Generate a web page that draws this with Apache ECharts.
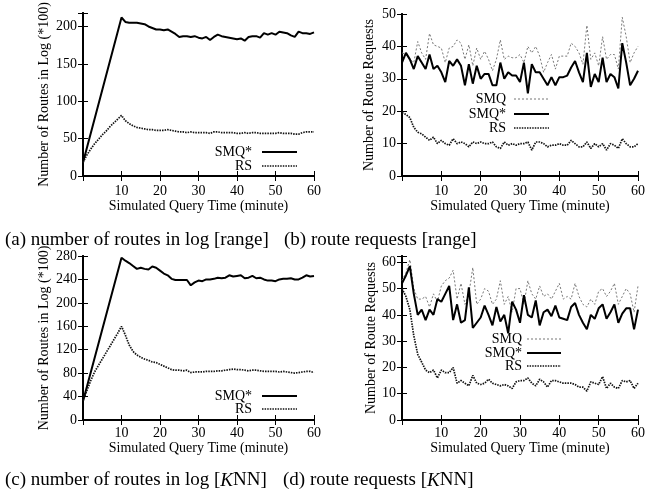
<!DOCTYPE html>
<html>
<head>
<meta charset="utf-8">
<script src="https://cdn.jsdelivr.net/npm/echarts@6/dist/echarts.min.js"></script>
<style>
html,body{margin:0;padding:0;background:#fff;}
#chart{width:648px;height:494px;}
</style>
</head>
<body>
<div id="chart"></div>
<script>
// ---- data ----
const minutes = [0,1,2,3,4,5,6,7,8,9,10,11,12,13,14,15,16,17,18,19,20,21,22,23,24,25,26,27,28,29,30,31,32,33,34,35,36,37,38,39,40,41,42,43,44,45,46,47,48,49,50,51,52,53,54,55,56,57,58,59,60];
const xTicks = [10,20,30,40,50,60];

// (a) number of routes in log [range] (*100)
const routesSmqStarRange = [18,null,null,null,null,null,null,null,null,null,212,206,205,205,205,204,203,200,198,196,196,195,196,193,190,186,187,187,186,187,185,184,186,182,186,189,187,186,185,184,183,184,181,186,187,187,185,191,189,191,189,193,192,191,188,186,193,191,191,190,192];
const routesRsRange = [18,28,36,43,49,55,60,66,71,76,81,74,70,67,65,64,63,62,62,61,61,61,62,61,60,59,59,58,59,58,58,58,58,57,59,59,58,58,58,58,57,57,58,57,58,58,57,57,57,57,57,58,57,57,57,56,56,58,59,59,59];

// (b) route requests [range]
const requestsSmqRange = [38,37.5,36,35,41.5,38,36,44,40.5,40,39.5,35,39.5,40,42,41,36,40.5,34,39.5,36,38.5,36,32.5,36,42,36,37,36.5,36.5,37.5,35,40,38,40,37,32,35,37.5,33,37,37,37,41,40,38,34.5,46.5,36,38,34,43,36,37.5,37.5,33,49,43,35,38,40];
const requestsSmqStarRange = [35,38,36,33,37,35,33,37.5,33,34,32,29,35.5,34,36,34,28,34.5,28.5,34,30,31.5,31.5,28,28,35,30,32,31,31,29,35,25.5,34.5,32,32,30,28,30.5,28,30.5,30.5,31,33.5,35.5,32,29,38,27.5,31.5,29,36.5,29,31.5,30.5,27,41,35,28,30,32.5];
const requestsRsRange = [19.5,19,18,15,13.5,13,12,11,12,10,11,10,9.5,11.5,10,10.5,10,9,10.5,10,10.5,10,10,10.5,9,8.5,10.5,9.5,10,9.5,10,10,10.5,8,10.5,10.5,10,9,9.5,9.5,10,9.5,9.5,11,10,9,9,10.5,8.5,10,9,10,8,10,9.5,8.5,11.5,10,9,9,10];

// (c) number of routes in log [KNN] (*100)
const routesSmqStarKnn = [32,null,null,null,null,null,null,null,null,null,277,272,268,263,258,260,258,257,262,260,255,250,247,241,239,239,239,239,230,235,238,237,240,240,241,243,242,243,247,245,246,247,242,243,246,242,243,240,238,238,237,240,241,241,242,240,240,243,247,245,246];
const routesRsKnn = [33,50,67,82,93,104,115,126,137,148,160,145,128,117,111,107,104,102,99,98,95,92,89,86,85,85,84,85,81,82,82,82,83,83,83,84,84,85,86,87,86,86,85,84,85,85,84,83,83,83,83,82,83,82,81,80,81,82,83,83,81];

// (d) route requests [KNN]
const requestsSmqKnn = [53,56,61,50,46,46,47,43,48,45,51,53,54,57,46,52,44,48,58,44,46,50,49,44,46,53,44,47,41,50,50,44,53,48,46,51,47,48,46,49,52,46,47,46,52,47,44,43,46,44,49,50,47,49,52,44,47,50,48,41,51];
const requestsSmqStarKnn = [52,55,58.5,48,40,42,38,42,40,46,45,48,51,38,44,37,38,50.5,35,37,39,43.5,40,36,43,37.5,40,33,45,42,37,47.5,40,39,45.5,36,41,42,39.5,43.5,39,38.5,38,43,44.5,40,37,34.5,40,38.5,42.5,44,38.5,41,44,37,40.5,42.5,42.5,34.5,42];
const requestsRsKnn = [50,47,42,32,25,22,19,18,19,16,19,18,18,20,14,15,14,13,17,14,13.5,14,15.5,14,13.5,13,13.5,13,12,14.5,15,15,16,14,13,15.5,14.5,12.5,15,15,14.5,14,14,14,13.5,12.5,12.5,11,14.5,14,13.5,16.5,12,14,12.5,12,15,14.5,15,12,14];

const captions = ['(a) number of routes in log [range]', '(b) route requests [range]', '(c) number of routes in log [{k|K}NN]', '(d) route requests [{k|K}NN]'];
const xTitle = 'Simulated Query Time (minute)';
const yTitleRoutes = 'Number of Routes in Log (*100)';
const yTitleRequests = 'Number of Route Requests';

// ---- styles ----
const FONT = '"Liberation Serif", "Times New Roman", serif';
const styleSmqStar = {color: '#000', width: 2, type: 'solid'};
const styleRs = {color: '#111', width: 1.7, type: [1.5, 1.1]};
const styleSmq = {color: '#777', width: 1, type: [2, 2]};

const grids = [
  {left: 83, top: 13, width: 231, height: 163},
  {left: 402, top: 14, width: 239, height: 162},
  {left: 83, top: 256, width: 231, height: 164},
  {left: 402, top: 256, width: 239, height: 164}
];
const yCfg = [
  {max: 218, interval: 50, name: yTitleRoutes, gap: 32},
  {max: 50, interval: 10, name: yTitleRequests, gap: 26},
  {max: 280, interval: 40, name: yTitleRoutes, gap: 32},
  {max: 62.4, interval: 10, name: yTitleRequests, gap: 23}
];
const xCfg = [
  {margin: 8, gap: 15},
  {margin: 8, gap: 15},
  {margin: 6, gap: 20},
  {margin: 6, gap: 20}
];

const xAxes = [], yAxes = [];
const lineAx = {show: true, lineStyle: {color: '#000', width: 2}};
const tickAx = {show: true, inside: true, length: 5, lineStyle: {color: '#000', width: 1}};
grids.forEach((g, i) => {
  xAxes.push({
    type: 'value', gridIndex: i, position: 'bottom', min: 0, max: 60, interval: 10,
    axisLine: lineAx, axisTick: tickAx, splitLine: {show: false},
    axisLabel: {fontFamily: FONT, fontSize: 14, color: '#000', margin: xCfg[i].margin,
      formatter: v => (xTicks.indexOf(v) >= 0 ? String(v) : '')},
    name: xTitle, nameLocation: 'middle', nameGap: xCfg[i].gap,
    nameTextStyle: {fontFamily: FONT, fontSize: 14, color: '#000'}
  });
  xAxes.push({
    type: 'value', gridIndex: i, position: 'top', min: 0, max: 60, interval: 10,
    axisLine: lineAx, axisTick: tickAx, splitLine: {show: false}, axisLabel: {show: false}
  });
  const yc = yCfg[i];
  yAxes.push({
    type: 'value', gridIndex: i, position: 'left', min: 0, max: yc.max, interval: yc.interval,
    axisLine: lineAx, axisTick: tickAx, splitLine: {show: false},
    axisLabel: {fontFamily: FONT, fontSize: 14, color: '#000', margin: 6,
      formatter: v => (v % yc.interval === 0 ? String(v) : '')},
    name: yc.name, nameLocation: 'middle', nameGap: yc.gap,
    nameTextStyle: {fontFamily: FONT, fontSize: 14, color: '#000'}
  });
  yAxes.push({
    type: 'value', gridIndex: i, position: 'right', min: 0, max: yc.max, interval: yc.interval,
    axisLine: lineAx, axisTick: tickAx, splitLine: {show: false}, axisLabel: {show: false}
  });
});

function pairs(vals) {
  const out = [];
  vals.forEach((v, i) => { if (v !== null) out.push([minutes[i], v]); });
  return out;
}
function mkSeries(name, vals, gi, ls) {
  return {
    name: name, type: 'line', xAxisIndex: gi * 2, yAxisIndex: gi * 2,
    data: pairs(vals), symbol: 'none', lineStyle: ls, silent: true, z: 3
  };
}
const series = [
  mkSeries('SMQ*', routesSmqStarRange, 0, styleSmqStar),
  mkSeries('RS', routesRsRange, 0, styleRs),
  mkSeries('SMQ', requestsSmqRange, 1, styleSmq),
  mkSeries('SMQ*', requestsSmqStarRange, 1, styleSmqStar),
  mkSeries('RS', requestsRsRange, 1, styleRs),
  mkSeries('SMQ*', routesSmqStarKnn, 2, styleSmqStar),
  mkSeries('RS', routesRsKnn, 2, styleRs),
  mkSeries('SMQ', requestsSmqKnn, 3, styleSmq),
  mkSeries('SMQ*', requestsSmqStarKnn, 3, styleSmqStar),
  mkSeries('RS', requestsRsKnn, 3, styleRs)
];

// legends (drawn as graphics)
const legendDefs = [
  {textRight: 252, x1: 262, x2: 297, items: [['SMQ*', styleSmqStar, 152], ['RS', styleRs, 166]]},
  {textRight: 506, x1: 514, x2: 549, items: [['SMQ', styleSmq, 99], ['SMQ*', styleSmqStar, 114], ['RS', styleRs, 128]]},
  {textRight: 252, x1: 262, x2: 297, items: [['SMQ*', styleSmqStar, 396], ['RS', styleRs, 409]]},
  {textRight: 522, x1: 527, x2: 561, items: [['SMQ', styleSmq, 339], ['SMQ*', styleSmqStar, 353], ['RS', styleRs, 366]]}
];
const graphics = [];
legendDefs.forEach(ld => {
  ld.items.forEach(it => {
    const [label, ls, y] = it;
    graphics.push({type: 'text', x: ld.textRight, y: y, z: 10,
      style: {text: label, font: '14px ' + FONT, fill: '#000', textAlign: 'right', textVerticalAlign: 'middle'}});
    graphics.push({type: 'line', z: 10, shape: {x1: ld.x1, y1: y, x2: ld.x2, y2: y},
      style: {stroke: ls.color, lineWidth: ls.width, lineDash: Array.isArray(ls.type) ? ls.type : null}});
  });
});

const capStyle = {fontFamily: FONT, fontSize: 19, fontWeight: 'normal', color: '#000',
  rich: {k: {fontFamily: FONT, fontSize: 19, fontStyle: 'italic', color: '#000'}}};
const titles = [
  {text: captions[0], left: 5, top: 231, textStyle: capStyle, padding: 0},
  {text: captions[1], left: 284, top: 231, textStyle: capStyle, padding: 0},
  {text: captions[2], left: 5, top: 471, textStyle: capStyle, padding: 0},
  {text: captions[3], left: 283, top: 471, textStyle: capStyle, padding: 0}
];

const chart = echarts.init(document.getElementById('chart'), null, {renderer: 'canvas'});
chart.setOption({
  animation: false,
  backgroundColor: '#fff',
  title: titles,
  grid: grids.map(g => Object.assign({containLabel: false}, g)),
  xAxis: xAxes,
  yAxis: yAxes,
  series: series,
  graphic: graphics
});
</script>
</body>
</html>
